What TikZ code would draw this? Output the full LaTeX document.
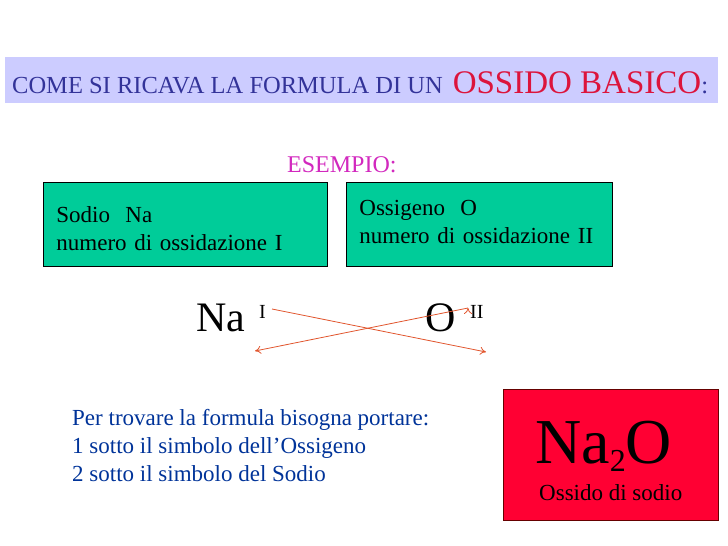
\documentclass[tikz,border=0pt]{standalone}
\usepackage{fontspec}
\setmainfont{Liberation Serif}
\usetikzlibrary{positioning,arrows.meta}

\definecolor{headerbg}{RGB}{204,204,255}
\definecolor{titleblue}{RGB}{51,51,153}
\definecolor{titlered}{RGB}{220,20,60}
\definecolor{magenta example}{RGB}{210,40,190}
\definecolor{box green}{RGB}{0,204,153}
\definecolor{text blue}{RGB}{0,51,153}
\definecolor{box red}{RGB}{255,0,51}
\definecolor{arrow orange}{RGB}{225,85,45}

\begin{document}
\begin{tikzpicture}[x=1pt,y=-1pt,
            green box/.style={draw,thick,fill=box green,minimum width=284pt,minimum height=84pt,
                              text width=258pt,align=left,anchor=north west,inner sep=0pt},
            body text/.style={font=\fontsize{23}{28}\selectfont},
            big symbol/.style={font=\fontsize{42}{42}\selectfont,anchor=base west,inner sep=0pt},
            small sup/.style={font=\fontsize{20}{20}\selectfont,anchor=base west,inner sep=0pt},
            cross arrow/.style={-{To[length=6pt,width=8pt]},draw=arrow orange,line width=0.8pt}]

        \useasboundingbox (0,0) rectangle (728,546);

        % Define header
        \fill[headerbg] (5,57) rectangle (718,103);
        \node[anchor=base west,inner sep=0pt,font=\fontsize{24.5}{24.5}\selectfont,text=titleblue] (title)
            at (12,93) {COME SI RICAVA LA FORMULA DI UN\hspace{10pt}\textcolor{titlered}{\fontsize{33}{33}\selectfont OSSIDO BASICO}:};
        \node[anchor=base west,inner sep=0pt,font=\fontsize{24}{24}\selectfont,text=magenta example] (esempio) at (287,172) {ESEMPIO:};

        % Define boxes
        \node[green box,body text] (sodio) at (43,182) {\rule{0pt}{40pt}Sodio\ \ Na\\numero di ossidazione I\vphantom{p}\rule[-16pt]{0pt}{16pt}};
        \node[green box,body text,minimum width=266pt,text width=240pt] (ossigeno) at (346,182)
            {\rule{0pt}{33pt}Ossigeno\ \ O\\numero di ossidazione II\rule[-23pt]{0pt}{23pt}};

        % Define symbols
        \node[big symbol] (Na) at (196,331) {Na};
        \node[small sup] (supI) at (259,318) {I};
        \node[big symbol] (O) at (425,331) {O};
        \node[small sup] (supII) at (470,318) {II};

        \coordinate (naStart) at (272,309);
        \coordinate (oEnd) at (486,352);
        \coordinate (oStart) at (468,308);
        \coordinate (naEnd) at (255,351);

        % Draw edges
        \path[cross arrow]
            (naStart) edge (oEnd)
            (oStart) edge (naEnd);

        % Define explanation
        \node[anchor=base west,inner sep=0pt,body text,text=text blue,align=left] (rule)
            at (72,481) {Per trovare la formula bisogna portare:\\1 sotto il simbolo dell’Ossigeno\\2 sotto il simbolo del Sodio};

        % Define result box
        \node[draw=black!60!red,thick,fill=box red,minimum width=215pt,minimum height=131pt,
              anchor=north west,inner sep=0pt] (result) at (503,389) {};
        \node[anchor=base west,inner sep=0pt,font=\fontsize{64}{64}\selectfont] (formula)
            at (535,463) {Na\raisebox{-8pt}{\fontsize{32}{32}\selectfont 2}O};
        \node[anchor=base west,inner sep=0pt,body text] (name) at (539,500) {Ossido di sodio};

        \end{tikzpicture}
\end{document}
